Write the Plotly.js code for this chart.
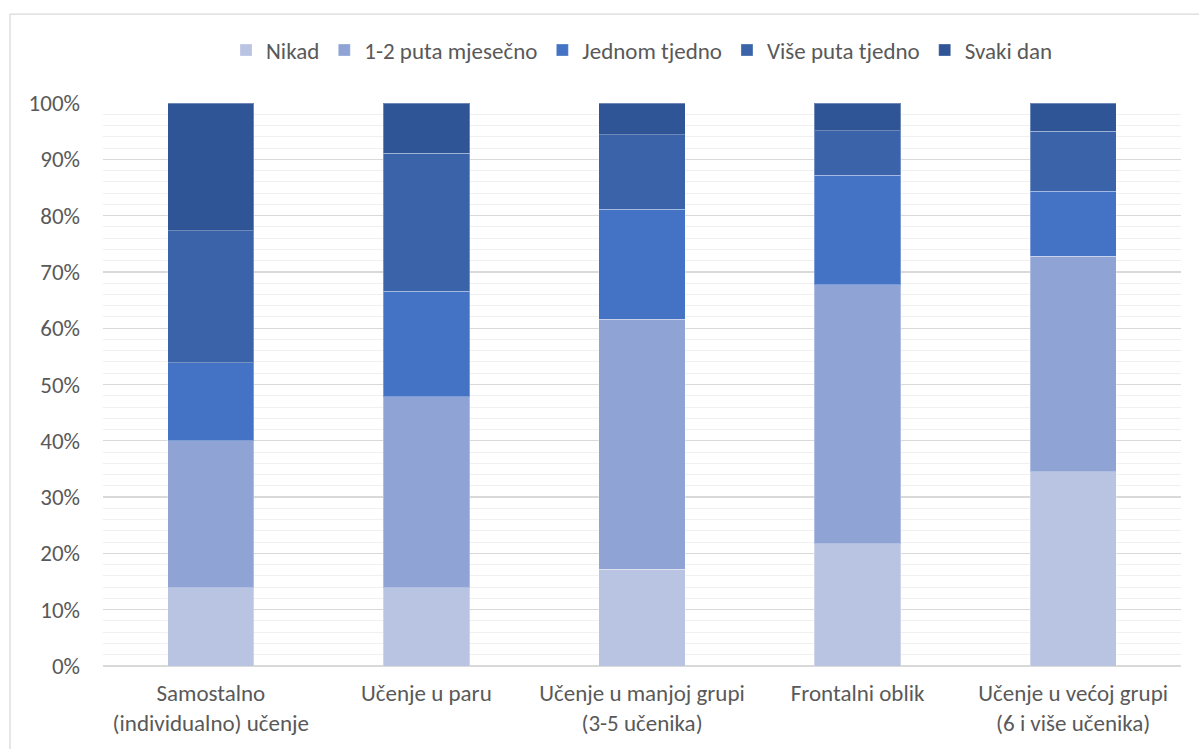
<!DOCTYPE html>
<html>
<head>
<meta charset="utf-8">
<script src="https://cdn.plot.ly/plotly-3.0.1.min.js"></script>
<style>html,body{margin:0;padding:0;background:#fff;}#chart{width:1199px;height:749px;}</style>
</head>
<body>
<div id="chart"></div>
<script>
const categories = ["Samostalno<br>(individualno) učenje", "Učenje u paru", "Učenje u manjoj grupi<br>(3-5 učenika)", "Frontalni oblik", "Učenje u većoj grupi<br>(6 i više učenika)"];
const seriesNames = ["Nikad", "1-2 puta mjesečno", "Jednom tjedno", "Više puta tjedno", "Svaki dan"];
const nikad = [13.9, 13.9, 17.2, 21.7, 34.5];
const mjesecno = [26.1, 33.9, 44.4, 46.0, 38.3];
const jednom = [13.9, 18.8, 19.5, 19.5, 11.5];
const viseputa = [23.4, 24.5, 13.3, 7.9, 10.7];
const svakidan = [22.7, 8.9, 5.6, 4.9, 5.0];
const colors = ["#B9C3E2", "#8FA3D4", "#4472C4", "#3A63AA", "#2F5597"];

const values = [nikad, mjesecno, jednom, viseputa, svakidan];
const traces = values.map((v, i) => ({
  type: "bar",
  name: seriesNames[i],
  x: categories,
  y: v,
  marker: {color: colors[i], line: {color: "rgba(255,255,255,0.3)", width: 1}},
  width: 0.4,
  hoverinfo: "y+name"
}));

const font = "Carlito, 'Liberation Sans Narrow', 'Open Sans', sans-serif";
const layout = {
  width: 1199, height: 749,
  margin: {l: 103, r: 18, t: 103, b: 83},
  paper_bgcolor: "#fff", plot_bgcolor: "#fff",
  barmode: "stack",
  font: {family: font, size: 23, color: "#595959"},
  showlegend: true,
  legend: {orientation: "h", x: 0.5, xanchor: "center", y: 1.094, yanchor: "middle",
           traceorder: "normal", font: {size: 23, color: "#595959"}, itemwidth: 30},
  xaxis: {showgrid: false, zeroline: false, showline: false, ticks: "", ticklabelstandoff: 11,
          tickfont: {size: 23, color: "#595959"}, fixedrange: true},
  yaxis: {range: [0, 100], dtick: 10, ticksuffix: "%", showgrid: true, gridcolor: "#D9D9D9", gridwidth: 1.3,
          zeroline: true, zerolinecolor: "#D9D9D9", zerolinewidth: 1.5, showline: false, ticks: "",
          ticklabelstandoff: 22,
          minor: {dtick: 2, showgrid: true, gridcolor: "#F0F0F0", gridwidth: 1},
          tickfont: {size: 23, color: "#595959"}, fixedrange: true},
  shapes: [
    {type: "line", xref: "paper", yref: "paper", x0: -0.0863, x1: -0.0863, y0: 1.158, y1: -0.2, line: {color: "#D9D9D9", width: 1.3}},
    {type: "line", xref: "paper", yref: "paper", x0: -0.0863, x1: 1.2, y0: 1.158, y1: 1.158, line: {color: "#D9D9D9", width: 1.3}}
  ]
};
Plotly.newPlot("chart", traces, layout, {displayModeBar: false, staticPlot: true});
</script>
</body>
</html>
